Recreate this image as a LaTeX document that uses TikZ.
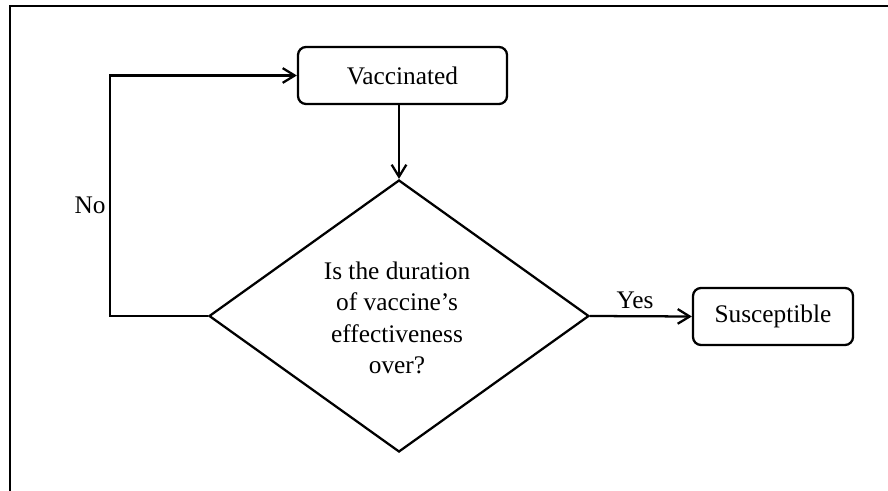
\documentclass[tikz,border=0pt]{standalone}
\usepackage{fontspec}
\setmainfont{Liberation Serif}
\usetikzlibrary{shapes.geometric,arrows.meta}
\begin{document}
\begin{tikzpicture}[x=0.75pt,y=-0.75pt,
  line width=1.7pt,
  every node/.style={font=\fontsize{19}{23.5}\selectfont},
  state/.style={draw,rounded corners=6pt,minimum width=156.75pt,minimum height=42.75pt,inner sep=0pt},
  small/.style={draw,rounded corners=6pt,minimum width=120pt,minimum height=42.75pt,inner sep=0pt},
  decide/.style={draw,diamond,minimum width=285pt,minimum height=204pt,inner sep=0pt,align=center},
  flow/.style={-{Straight Barb[length=9pt,width=11pt,line width=1.7pt]}}]
  \useasboundingbox (0,0) rectangle (888,491);
  % frame edges
  \draw (10,491) -- (10,6) -- (888,6);
  % nodes
  \node[state] (vac) at (402.5,75.5) {Vaccinated};
  \node[small] (sus) at (773,316.5) {Susceptible};
  \node[decide] (q) at (399,316) {};
  \node[align=center,font=\fontsize{19}{23.5}\selectfont] (qt) at (397,318)
    {Is the duration\\of vaccine’s\\effectiveness\\over?};
  % connectors
  \coordinate (c1) at (110,316);
  \coordinate (c2) at (110,75.5);
  \draw[flow] (q.north |- vac.south) -- (q.north);
  \draw[flow] (q.west) -- (c1) -- (c2) -- (vac.west);
  \draw[flow] (q.east) -- (sus.west);
  % labels
  \node (no) at (90,205) {No};
  \node (yes) at (635,300) {Yes};
\end{tikzpicture}
\end{document}
